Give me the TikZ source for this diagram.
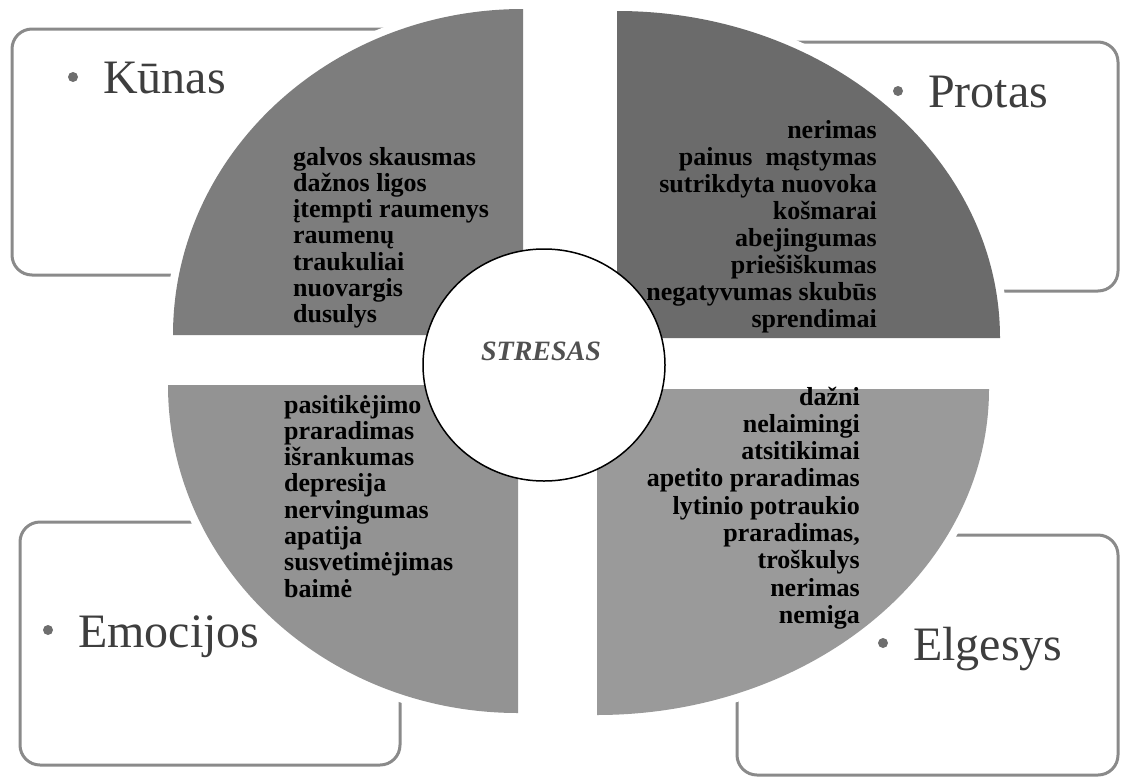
\documentclass[tikz,border=0pt]{standalone}
\usepackage{fontspec}
\setmainfont{Liberation Serif}
\usetikzlibrary{shapes.geometric}
\definecolor{boxgray}{HTML}{8A8A8A}
\definecolor{labelgray}{HTML}{3E3E3E}
\definecolor{bulletgray}{HTML}{6E6E6E}
\definecolor{stressgray}{HTML}{505050}
\definecolor{qtl}{HTML}{7D7D7D}
\definecolor{qtr}{HTML}{6B6B6B}
\definecolor{qbl}{HTML}{939393}
\definecolor{qbr}{HTML}{9A9A9A}
\begin{document}
\begin{tikzpicture}[x=1pt,y=-1pt,
  boxline/.style={rectangle, draw=boxgray, line width=3pt, rounded corners=20pt, inner sep=0pt},
  quad/.style={preaction={draw=white, line width=16pt}},
  lbl/.style={anchor=base west, inner sep=0pt, font=\fontsize{48}{52}\selectfont, text=labelgray},
  bul/.style={circle, fill=bulletgray, inner sep=0pt, minimum size=10pt},
  item/.style={inner sep=0pt, font=\bfseries\fontsize{26}{27}\selectfont, text=black}]

\useasboundingbox (0,0) rectangle (1121,779);

% boxes
\node[boxline, minimum width=458pt, minimum height=246pt] (kbox) at (241,152) {};
\node[boxline, minimum width=438pt, minimum height=249pt] (pbox) at (899,166.5) {};
\node[boxline, minimum width=380pt, minimum height=243pt] (ebox) at (210,643.5) {};
\node[boxline, minimum width=381pt, minimum height=240pt] (gbox) at (927.5,655) {};

% quadrants
\fill[qtl, quad] (523,335) -- (173,335) arc[start angle=180, end angle=270, x radius=350, y radius=326] -- cycle;
\fill[qtr, quad] (617,338) -- (617,11) arc[start angle=270, end angle=360, x radius=383, y radius=327] -- cycle;
\fill[qbr, quad] (597,389) -- (989,389) arc[start angle=0, end angle=90, x radius=392, y radius=326] -- cycle;
\fill[qbl, quad] (518,385) -- (518,713) arc[start angle=90, end angle=180, x radius=350, y radius=328] -- cycle;

% centre
\node[ellipse, draw=black, line width=1.5pt, fill=white, minimum width=242pt, minimum height=232pt, inner sep=0pt] (core) at (544,365) {};
\node[anchor=base, inner sep=0pt, font=\bfseries\itshape\fontsize{28}{30}\selectfont, text=stressgray] (stresas) at (541,360) {STRESAS};

% lists
\foreach \t [count=\i from 0] in {galvos skausmas, dažnos ligos, įtempti raumenys, raumenų, traukuliai, nuovargis, dusulys}
  \node[item, anchor=base west] (tl\i) at (293,{165+26.3*\i}) {\t};
\foreach \t [count=\i from 0] in {nerimas, painus\ \ mąstymas, sutrikdyta nuovoka, košmarai, abejingumas, priešiškumas, negatyvumas skubūs, sprendimai}
  \node[item, anchor=base east] (tr\i) at (877,{138+27.1*\i}) {\t};
\foreach \t [count=\i from 0] in {pasitikėjimo, praradimas, išrankumas, depresija, nervingumas, apatija, susvetimėjimas, baimė}
  \node[item, anchor=base west] (bl\i) at (284,{413+26.3*\i}) {\t};
\foreach \t [count=\i from 0] in {dažni, nelaimingi, atsitikimai, apetito praradimas, lytinio potraukio, {praradimas,}, troškulys, nerimas, nemiga}
  \node[item, anchor=base east] (br\i) at (860,{405+27.3*\i}) {\t};

% labels
\node[bul] (kdot) at (73,77) {};
\node[lbl] (ktxt) at (103,93) {Kūnas};
\node[bul] (pdot) at (898,91) {};
\node[lbl] (ptxt) at (928,107) {Protas};
\node[bul] (edot) at (48,630) {};
\node[lbl] (etxt) at (78,647) {Emocijos};
\node[bul] (gdot) at (883,643) {};
\node[lbl] (gtxt) at (913,660) {Elgesys};
\end{tikzpicture}
\end{document}
